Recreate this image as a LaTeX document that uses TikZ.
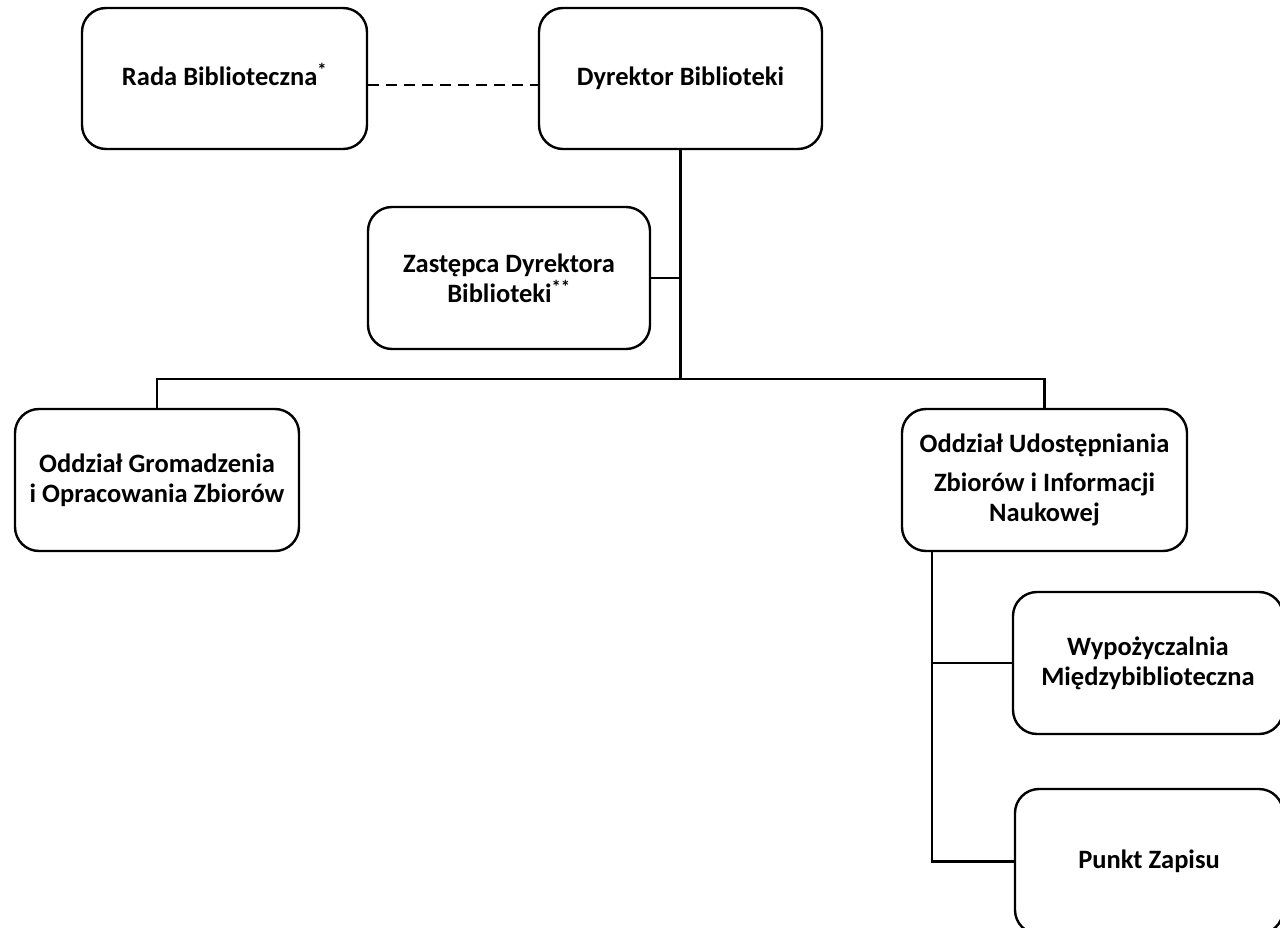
\documentclass[tikz,border=0pt]{standalone}
\usepackage{fontspec}
\setmainfont{Carlito}
\begin{document}
\begin{tikzpicture}[x=1pt,y=-1pt,
  unit/.style={draw,line width=2.4pt,rounded corners=24pt,align=center,
    inner sep=0pt,font=\bfseries\fontsize{26.5}{30}\selectfont},
  link/.style={line width=2.2pt}]
\useasboundingbox (0,0) rectangle (1280,928);
% boxes
\node[unit,minimum width=285pt,minimum height=141pt] (rada) at (224.5,78.5) {Rada Biblioteczna\smash{\textsuperscript{*}}\vphantom{y}};
\node[unit,minimum width=283pt,minimum height=141pt] (dyr) at (680.5,78.5) {Dyrektor Biblioteki};
\node[unit,minimum width=282pt,minimum height=142pt] (zast) at (509,278) {Zastępca Dyrektora\\Biblioteki\textsuperscript{**}};
\node[unit,minimum width=284pt,minimum height=142pt] (grom) at (157,480) {Oddział Gromadzenia\\i Opracowania Zbiorów};
\node[unit,minimum width=285pt,minimum height=142pt] (udost) at (1044.5,480) {Oddział Udostępniania\\[9pt]Zbiorów i Informacji\\Naukowej};
\node[unit,minimum width=270pt,minimum height=142pt] (wyp) at (1148,663) {Wypożyczalnia\\Międzybiblioteczna};
\node[unit,minimum width=268pt,minimum height=145pt] (punkt) at (1149,861.5) {Punkt Zapisu};
% connectors
\coordinate (hub) at (680.5,379);
\coordinate (spine) at (932,600);
\draw[link,dash pattern=on 11pt off 7pt] ([yshift=-6.5pt]rada.east) -- ([yshift=-6.5pt]dyr.west);
\draw[link] (dyr.south) -- (hub);
\draw[link] (zast.east) -- (zast.east -| dyr.south);
\draw[link] (grom.north) |- (hub) -| (udost.north);
\draw[link] (udost.south -| spine) |- (punkt.west);
\draw[link] (wyp.west) -- (wyp.west -| spine);
\end{tikzpicture}
\end{document}
